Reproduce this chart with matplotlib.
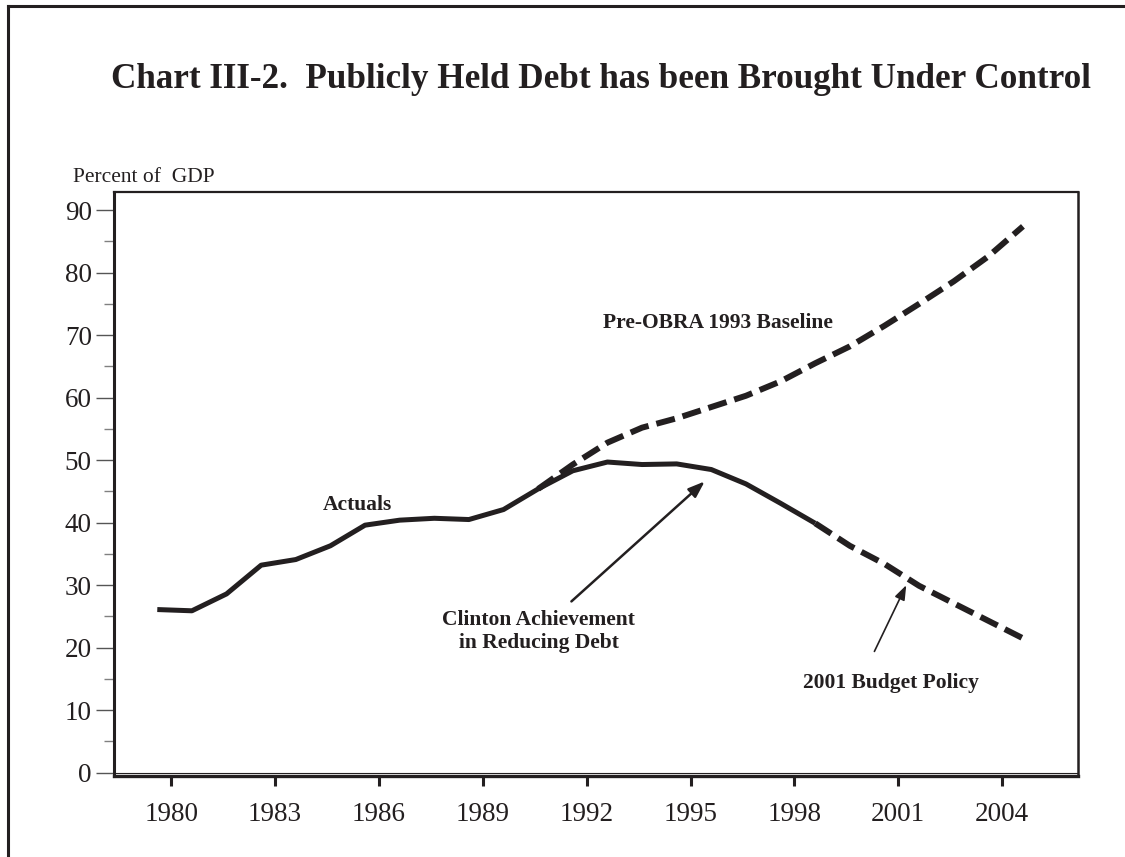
import matplotlib
matplotlib.use("Agg")
import matplotlib.pyplot as plt
from matplotlib.lines import Line2D
import numpy as np

plt.rcParams['font.family'] = ['Liberation Serif', 'DejaVu Serif']

ink = '#231f20'

# debt held by the public, percent of GDP
actual_years = list(range(1980, 2000))
actual_debt = [26.1, 25.9, 28.6, 33.2, 34.1, 36.3, 39.6, 40.4, 40.7, 40.5,
               42.1, 45.4, 48.3, 49.7, 49.3, 49.4, 48.5, 46.2, 43.1, 39.9]

baseline_years = list(range(1991, 2006))
baseline_debt = [45.4, 49.3, 52.8, 55.2, 56.7, 58.5, 60.3, 62.6, 65.5, 68.2,
                 71.5, 75.0, 78.6, 82.6, 87.4]

policy_years = list(range(1999, 2006))
policy_debt = [39.9, 36.3, 33.4, 29.9, 27.1, 24.3, 21.5]

tick_years = list(range(1980, 2005, 3))
y_major = list(range(0, 91, 10))
y_minor = list(range(5, 90, 10))

W, H = 1125, 857
fig = plt.figure(figsize=(W / 100, H / 100), dpi=100)

# axes box in pixels: left, top, right, bottom
l, t, r, b = 114, 192, 1078, 776
ax = fig.add_axes([l / W, (H - b) / H, (r - l) / W, (b - t) / H])

ax.plot(actual_years, actual_debt, color=ink, lw=3.6, solid_capstyle='butt', zorder=3)
ax.plot(baseline_years, baseline_debt, color=ink, lw=4.3, dashes=(3.2, 1.35),
        dash_capstyle='butt', zorder=3)
ax.plot(policy_years, policy_debt, color=ink, lw=4.3, dashes=(3.2, 1.35),
        dash_capstyle='butt', zorder=3)

ax.axhline(0, color=ink, lw=0.8, zorder=2)

ax.set_xlim(1978.75, 2006.59)
ax.set_ylim(-0.53, 92.9)

# year ticks sit a little right of the fiscal-year points
ax.set_xticks([yr + 0.4 for yr in tick_years])
ax.set_xticklabels([str(yr) for yr in tick_years])
ax.set_yticks(y_major)
ax.set_yticks(y_minor, minor=True)

ax.tick_params(axis='x', direction='out', length=7.5, width=2.2, color=ink,
               labelsize=19.5, pad=11, labelcolor=ink)
ax.tick_params(axis='y', which='major', direction='out', length=13, width=1.0,
               color='#555555', labelsize=19.5, pad=3, labelcolor=ink)
ax.tick_params(axis='y', which='minor', direction='out', length=7.5, width=1.0,
               color='#808080')

for side, w in [('left', 2.2), ('bottom', 2.4), ('top', 1.6), ('right', 1.8)]:
    ax.spines[side].set_linewidth(w)
    ax.spines[side].set_color(ink)

lab = dict(fontsize=15.5, fontweight='bold', color=ink, ha='center', va='center')
ax.text(1985.79, 42.8, 'Actuals', **lab)
ax.text(1996.2, 71.95, 'Pre-OBRA 1993 Baseline', **lab)
ax.text(1991.01, 22.6, 'Clinton Achievement\nin Reducing Debt', linespacing=1.2, **lab)
ax.text(2001.18, 14.35, '2001 Budget Policy', **lab)

ax.annotate('', xy=(1995.81, 46.6), xytext=(1991.96, 27.4),
            arrowprops=dict(arrowstyle='-|>,head_length=0.55,head_width=0.2',
                            mutation_scale=18, lw=1.8, color=ink,
                            shrinkA=0, shrinkB=0))
ax.annotate('', xy=(2001.63, 30.0), xytext=(2000.71, 19.4),
            arrowprops=dict(arrowstyle='-|>,head_length=0.55,head_width=0.2',
                            mutation_scale=16, lw=1.2, color=ink,
                            shrinkA=0, shrinkB=0))

fig.text(601 / W, 1 - 80 / H,
         'Chart III-2.  Publicly Held Debt has been Brought Under Control',
         fontsize=25.3, fontweight='bold', color=ink, ha='center', va='center')
fig.text(73 / W, 1 - 177 / H, 'Percent of  GDP', fontsize=15.5, color=ink,
         ha='left', va='center')

# page frame, left and top edges
fig.add_artist(Line2D([8 / W, 8 / W], [0, 1 - 6 / H], transform=fig.transFigure,
                      color=ink, lw=2.2))
fig.add_artist(Line2D([8 / W, 1], [1 - 6 / H, 1 - 6 / H], transform=fig.transFigure,
                      color=ink, lw=2.2))

fig.savefig('out.png', dpi=100)
